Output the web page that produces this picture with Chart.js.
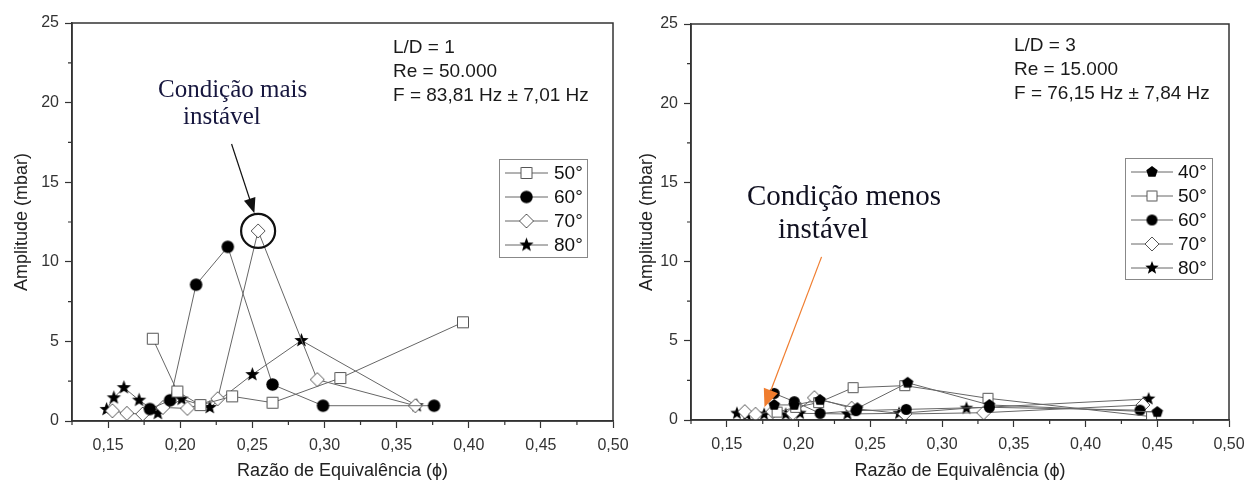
<!DOCTYPE html>
<html lang="pt">
<head>
<meta charset="UTF-8">
<title>Amplitude x Razão de Equivalência</title>
<script src="https://cdn.jsdelivr.net/npm/chart.js"></script>
<style>
  body { margin: 0; background: #fff; }
  #wrap { position: relative; width: 1258px; height: 483px; background: #fff; }
  canvas { position: absolute; top: 0; }
  #chartLD1 { left: 0; }
  #chartLD3 { left: 630px; }
</style>
</head>
<body>
<div id="wrap">
  <canvas id="chartLD1" width="630" height="483"></canvas>
  <canvas id="chartLD3" width="628" height="483"></canvas>
</div>
<script>
// tick labels
const xMajorTicks = [0.15, 0.20, 0.25, 0.30, 0.35, 0.40, 0.45, 0.50];
const yMajorTicks = [0, 5, 10, 15, 20, 25];

// L/D = 1, Re = 50.000
const ld1Angles = ['50°', '60°', '70°', '80°'];
const ld1Phi50 = [0.181, 0.198, 0.214, 0.236, 0.264, 0.311, 0.396];
const ld1Amp50 = [5.17, 1.85, 1.0, 1.55, 1.15, 2.7, 6.2];
const ld1Phi60 = [0.179, 0.193, 0.211, 0.233, 0.264, 0.299, 0.376];
const ld1Amp60 = [0.75, 1.3, 8.56, 10.94, 2.29, 0.96, 0.96];
const ld1Phi70 = [0.153, 0.163, 0.174, 0.188, 0.205, 0.226, 0.254, 0.295, 0.363];
const ld1Amp70 = [0.64, 0.48, 0.44, 0.85, 0.79, 1.4, 11.94, 2.6, 0.96];
const ld1Phi80 = [0.149, 0.154, 0.161, 0.1715, 0.1845, 0.201, 0.2205, 0.250, 0.284, 0.364];
const ld1Amp80 = [0.73, 1.46, 2.1, 1.31, 0.48, 1.375, 0.85, 2.92, 5.06, 0.96];

// L/D = 3, Re = 15.000
const ld3Angles = ['40°', '50°', '60°', '70°', '80°'];
const ld3Phi40 = [0.183, 0.197, 0.215, 0.241, 0.276, 0.333, 0.450];
const ld3Amp40 = [0.95, 0.95, 1.26, 0.74, 2.35, 0.95, 0.5];
const ld3Phi50 = [0.185, 0.198, 0.214, 0.238, 0.274, 0.332, 0.446];
const ld3Amp50 = [0.5, 0.8, 1.1, 2.04, 2.17, 1.37, 0.21];
const ld3Phi60 = [0.183, 0.197, 0.215, 0.240, 0.275, 0.333, 0.438];
const ld3Amp60 = [1.68, 1.16, 0.42, 0.59, 0.67, 0.80, 0.62];
const ld3Phi70 = [0.1625, 0.170, 0.182, 0.196, 0.211, 0.237, 0.274, 0.329, 0.440];
const ld3Amp70 = [0.53, 0.36, 0.53, 0.42, 1.41, 0.74, 0.38, 0.46, 0.95];
const ld3Phi80 = [0.157, 0.164, 0.176, 0.191, 0.201, 0.234, 0.270, 0.317, 0.444];
const ld3Amp80 = [0.42, 0.32, 0.36, 0.36, 0.42, 0.38, 0.42, 0.74, 1.33];

const SANS = "'Liberation Sans', Arial, sans-serif";
const SERIF = "'Liberation Serif', 'Times New Roman', serif";
const LINE_GRAY = '#666';
const AXIS = '#333';

// marker images (used both for points and for the legend)
function makeMarker(kind, s) {
    const n = Math.ceil(s) + 4;
    const c = document.createElement('canvas');
    c.width = n; c.height = n;
    const g = c.getContext('2d');
    const m = n / 2, r = s / 2;
    g.lineWidth = 1;
    g.strokeStyle = '#555';
    g.fillStyle = '#fff';
    g.beginPath();
    if (kind === 'square') {
        g.rect(Math.round(m - r) + 0.5, Math.round(m - r) + 0.5, Math.round(s) - 1, Math.round(s) - 1);
        g.fill(); g.stroke();
    } else if (kind === 'diamond') {
        g.moveTo(m, m - r); g.lineTo(m + r, m); g.lineTo(m, m + r); g.lineTo(m - r, m); g.closePath();
        g.fill(); g.stroke();
    } else if (kind === 'circle') {
        g.arc(m, m, r, 0, Math.PI * 2);
        g.fillStyle = '#000'; g.fill();
    } else if (kind === 'star') {
        for (let i = 0; i < 10; i++) {
            const a = -Math.PI / 2 + i * Math.PI / 5;
            const rr = i % 2 ? r * 0.42 : r;
            g.lineTo(m + rr * Math.cos(a), m + rr * Math.sin(a));
        }
        g.closePath();
        g.fillStyle = '#000'; g.fill();
    } else if (kind === 'pentagon') {
        for (let i = 0; i < 5; i++) {
            const a = -Math.PI / 2 + i * 2 * Math.PI / 5;
            g.lineTo(m + r * Math.cos(a), m + r * Math.sin(a));
        }
        g.closePath();
        g.fillStyle = '#000'; g.fill();
    }
    return c;
}

const mk1 = {
    square: makeMarker('square', 12),
    circle: makeMarker('circle', 12.5),
    diamond: makeMarker('diamond', 14),
    star: makeMarker('star', 15)
};
const mk3 = {
    pentagon: makeMarker('pentagon', 12),
    square: makeMarker('square', 11),
    circle: makeMarker('circle', 11),
    diamond: makeMarker('diamond', 14),
    star: makeMarker('star', 14)
};

function series(label, xs, ys, marker) {
    return {
        label,
        data: xs.map((x, i) => ({ x, y: ys[i] })),
        showLine: true,
        borderColor: LINE_GRAY,
        borderWidth: 1,
        tension: 0,
        pointStyle: marker,
        pointRadius: 6
    };
}

const isMajor = (v, list) => list.some(t => Math.abs(t - v) < 1e-6);

function drawArrow(ctx, x1, y1, x2, y2, color, headLen, headW) {
    const a = Math.atan2(y2 - y1, x2 - x1);
    const bx = x2 - headLen * Math.cos(a), by = y2 - headLen * Math.sin(a);
    ctx.save();
    ctx.strokeStyle = color; ctx.fillStyle = color; ctx.lineWidth = 1.2;
    ctx.beginPath(); ctx.moveTo(x1, y1); ctx.lineTo(bx, by); ctx.stroke();
    ctx.beginPath();
    ctx.moveTo(x2, y2);
    ctx.lineTo(bx + headW / 2 * Math.sin(a), by - headW / 2 * Math.cos(a));
    ctx.lineTo(bx - headW / 2 * Math.sin(a), by + headW / 2 * Math.cos(a));
    ctx.closePath(); ctx.fill();
    ctx.restore();
}

// frame, minor ticks, legend box and the notes
const panelDecor = {
    id: 'panelDecor',
    afterDraw(chart, args, o) {
        const { ctx, chartArea: ca } = chart;
        const xs = chart.scales.x, ys = chart.scales.y;
        ctx.save();
        ctx.strokeStyle = AXIS;
        ctx.lineWidth = 1.5;
        ctx.strokeRect(ca.left, ca.top, ca.right - ca.left, ca.bottom - ca.top);

        ctx.lineWidth = 1.2;
        ctx.beginPath();
        xs.ticks.forEach(t => {
            if (isMajor(t.value, xMajorTicks)) return;
            const px = xs.getPixelForValue(t.value);
            ctx.moveTo(px, ca.bottom); ctx.lineTo(px, ca.bottom + 4);
        });
        ys.ticks.forEach(t => {
            if (isMajor(t.value, yMajorTicks)) return;
            const py = ys.getPixelForValue(t.value);
            ctx.moveTo(ca.left, py); ctx.lineTo(ca.left - 4, py);
        });
        ctx.stroke();

        // legend
        const L = o.legend;
        ctx.strokeStyle = '#888';
        ctx.lineWidth = 1;
        ctx.strokeRect(L.x + 0.5, L.y + 0.5, L.w, L.h);
        ctx.font = '19px ' + SANS;
        ctx.textBaseline = 'middle';
        ctx.fillStyle = '#111';
        chart.data.datasets.forEach((ds, i) => {
            const y = L.y + L.first + i * L.step;
            ctx.strokeStyle = LINE_GRAY;
            ctx.beginPath(); ctx.moveTo(L.x + L.l0, y); ctx.lineTo(L.x + L.l1, y); ctx.stroke();
            const img = ds.pointStyle;
            ctx.drawImage(img, L.x + (L.l0 + L.l1) / 2 - img.width / 2, y - img.height / 2);
            ctx.fillText(ds.label, L.x + L.tx, y + 1);
        });

        // parameters block
        ctx.textBaseline = 'alphabetic';
        ctx.fillStyle = '#1a1a1a';
        o.info.lines.forEach((s, i) => ctx.fillText(s, o.info.x, o.info.y + i * 23.8));

        // annotation
        const A = o.note;
        ctx.font = A.font;
        ctx.fillStyle = A.color;
        A.text.forEach((s, i) => ctx.fillText(s, A.pos[i][0], A.pos[i][1]));
        const tx = xs.getPixelForValue(A.tail[0]), ty = ys.getPixelForValue(A.tail[1]);
        const hx = xs.getPixelForValue(A.tip[0]), hy = ys.getPixelForValue(A.tip[1]);
        drawArrow(ctx, tx, ty, hx, hy, A.arrowColor, A.headLen, A.headW);
        if (A.ring) {
            ctx.strokeStyle = '#111';
            ctx.lineWidth = 2.2;
            ctx.beginPath();
            ctx.arc(xs.getPixelForValue(A.ring[0]), ys.getPixelForValue(A.ring[1]), 17, 0, Math.PI * 2);
            ctx.stroke();
        }
        ctx.restore();
    }
};

function buildChart(id, datasets, pad, yWidth, xHeight, yTitlePad, decor) {
    return new Chart(document.getElementById(id), {
        type: 'scatter',
        data: { datasets },
        plugins: [panelDecor],
        options: {
            responsive: false,
            animation: false,
            events: [],
            layout: { padding: pad },
            plugins: {
                legend: { display: false },
                tooltip: { enabled: false },
                panelDecor: decor
            },
            scales: {
                x: {
                    type: 'linear',
                    min: 0.125, max: 0.5,
                    afterFit: s => { s.height = xHeight; s.paddingLeft = 0; s.paddingRight = 0; },
                    ticks: {
                        stepSize: 0.025,
                        autoSkip: false,
                        maxRotation: 0,
                        padding: 8,
                        color: AXIS,
                        font: { family: SANS, size: 16 },
                        callback: v => isMajor(v, xMajorTicks) ? v.toFixed(2).replace('.', ',') : ''
                    },
                    grid: {
                        drawOnChartArea: false,
                        tickLength: 7,
                        tickWidth: 1.2,
                        tickColor: c => (c.tick && isMajor(c.tick.value, xMajorTicks)) ? AXIS : 'rgba(0,0,0,0)'
                    },
                    border: { display: true, color: AXIS, width: 1.5 },
                    title: {
                        display: true,
                        text: 'Razão de Equivalência (ϕ)',
                        color: '#222',
                        font: { family: SANS, size: 18 },
                        padding: { top: 0, bottom: 1 }
                    }
                },
                y: {
                    min: 0, max: 25,
                    afterFit: s => { s.width = yWidth; s.paddingTop = 0; s.paddingBottom = 0; },
                    ticks: {
                        stepSize: 2.5,
                        autoSkip: false,
                        padding: 6,
                        color: AXIS,
                        font: { family: SANS, size: 16 },
                        callback: v => isMajor(v, yMajorTicks) ? String(v) : ''
                    },
                    grid: {
                        drawOnChartArea: false,
                        tickLength: 7,
                        tickWidth: 1.2,
                        tickColor: c => (c.tick && isMajor(c.tick.value, yMajorTicks)) ? AXIS : 'rgba(0,0,0,0)'
                    },
                    border: { display: true, color: AXIS, width: 1.5 },
                    title: {
                        display: true,
                        text: 'Amplitude (mbar)',
                        color: '#222',
                        font: { family: SANS, size: 18 },
                        padding: { top: yTitlePad, bottom: 0 }
                    }
                }
            }
        }
    });
}

buildChart('chartLD1', [
    series(ld1Angles[0], ld1Phi50, ld1Amp50, mk1.square),
    series(ld1Angles[1], ld1Phi60, ld1Amp60, mk1.circle),
    series(ld1Angles[2], ld1Phi70, ld1Amp70, mk1.diamond),
    series(ld1Angles[3], ld1Phi80, ld1Amp80, mk1.star)
], { left: 0, top: 23, right: 17, bottom: 0 }, 72, 62, 11, {
    legend: { x: 499, y: 159, w: 88, h: 98, first: 14, step: 24, l0: 6, l1: 49, tx: 55 },
    info: { x: 393, y: 53, lines: ['L/D = 1', 'Re = 50.000', 'F = 83,81 Hz ± 7,01 Hz'] },
    note: {
        font: '25px ' + SERIF,
        color: '#16163e',
        text: ['Condição mais', 'instável'],
        pos: [[158, 97], [183, 124]],
        tail: [0.2356, 17.4], tip: [0.2514, 13.05],
        arrowColor: '#111', headLen: 15, headW: 12,
        ring: [0.254, 11.94]
    }
});

buildChart('chartLD3', [
    series(ld3Angles[0], ld3Phi40, ld3Amp40, mk3.pentagon),
    series(ld3Angles[1], ld3Phi50, ld3Amp50, mk3.square),
    series(ld3Angles[2], ld3Phi60, ld3Amp60, mk3.circle),
    series(ld3Angles[3], ld3Phi70, ld3Amp70, mk3.diamond),
    series(ld3Angles[4], ld3Phi80, ld3Amp80, mk3.star)
], { left: 0, top: 24, right: 29, bottom: 0 }, 61, 63, 6, {
    legend: { x: 495, y: 158, w: 87, h: 121, first: 14, step: 24, l0: 6, l1: 48, tx: 53 },
    info: { x: 384, y: 51, lines: ['L/D = 3', 'Re = 15.000', 'F = 76,15 Hz ± 7,84 Hz'] },
    note: {
        font: '29px ' + SERIF,
        color: '#101020',
        text: ['Condição menos', 'instável'],
        pos: [[117, 205], [148, 238]],
        tail: [0.216, 10.3], tip: [0.1762, 0.8],
        arrowColor: '#f07d2f', headLen: 18, headW: 15,
        ring: null
    }
});
</script>
</body>
</html>
